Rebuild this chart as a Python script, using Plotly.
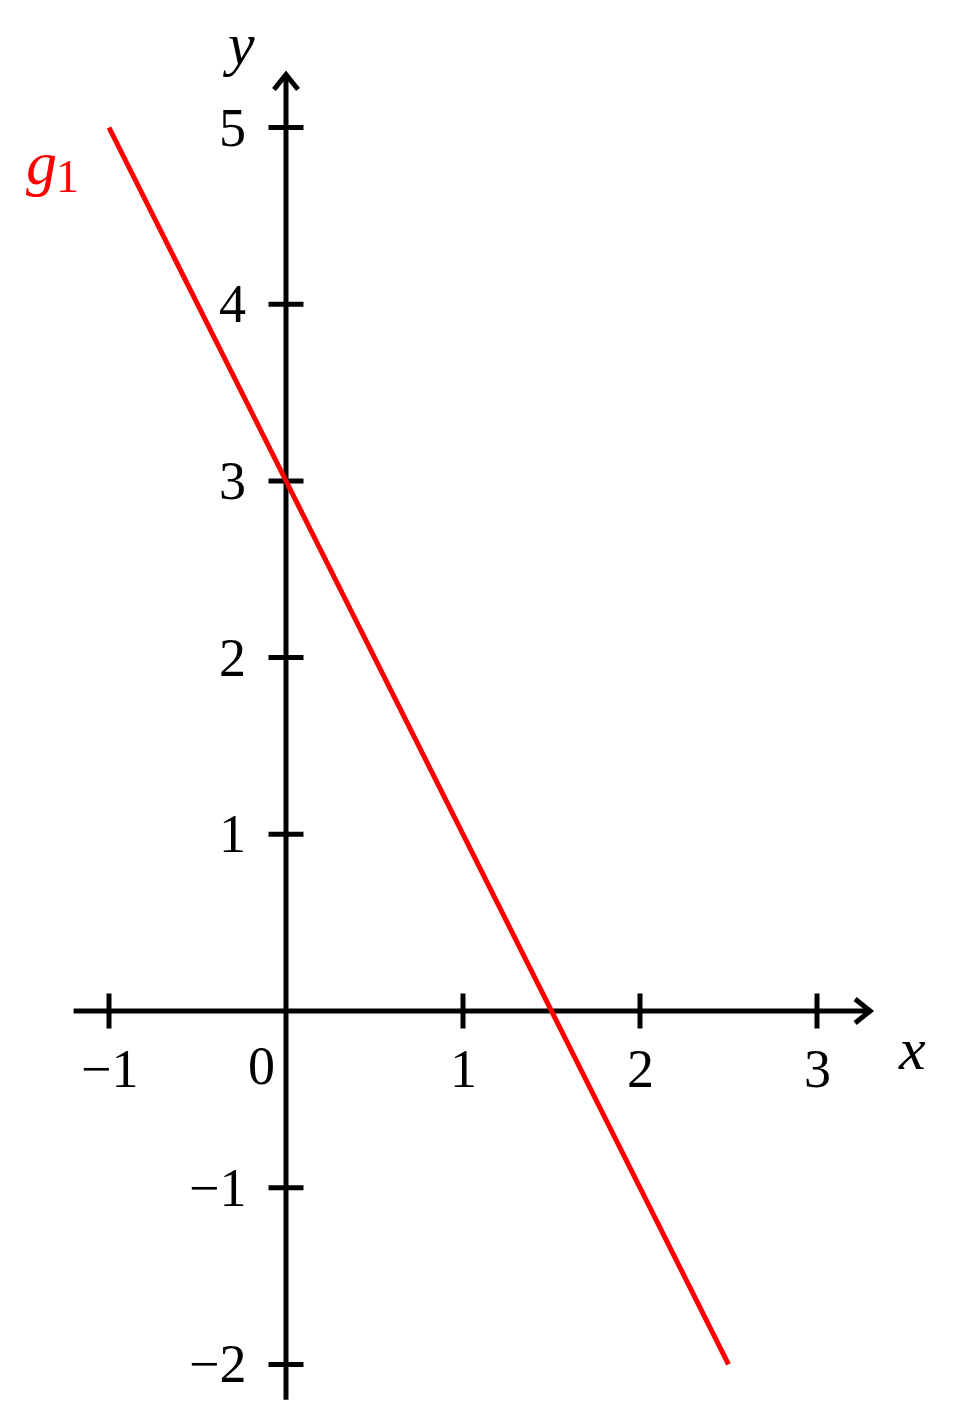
import plotly.graph_objects as go

# Gerade g1: y = -2x + 3, gezeichnet von x = -1 bis x = 2.5
g1_x = [-1, 2.5]
g1_y = [5, -2]

# Achsenbereiche (Pfeile)
x_axis_ext = [-1.2, 3.3]
y_axis_ext = [-2.2, 5.3]

# Achsenmarken
x_ticks = [-1, 1, 2, 3]
x_tick_labels = ["\u22121", "1", "2", "3"]
y_ticks = [-2, -1, 1, 2, 3, 4, 5]
y_tick_labels = ["\u22122", "\u22121", "1", "2", "3", "4", "5"]

# Seite hat 8px Rand -> Figur etwas kleiner, Ursprung entsprechend verschoben
W, H = 948, 1401
OX, OY = 286 - 8, 1011 - 8
PX_X, PX_Y = 177.0, 176.7  # Pixel pro Einheit
x_range = [-OX / PX_X, (W - OX) / PX_X]
y_range = [-(H - OY) / PX_Y, OY / PX_Y]

FONT = "Liberation Serif"
BLACK = "black"
RED = "#ff0000"
LW = 5

fig = go.Figure()

# Achsen
fig.add_trace(go.Scatter(x=x_axis_ext, y=[0, 0], mode="lines",
                         line=dict(color=BLACK, width=LW), hoverinfo="skip"))
fig.add_trace(go.Scatter(x=[0, 0], y=y_axis_ext, mode="lines",
                         line=dict(color=BLACK, width=LW), hoverinfo="skip"))

# Pfeilspitzen (offene Winkel)
ax_back, ax_spread = 15 / PX_X, 12 / PX_Y
tip = x_axis_ext[1]
fig.add_trace(go.Scatter(x=[tip - ax_back, tip, tip - ax_back], y=[ax_spread, 0, -ax_spread],
                         mode="lines", line=dict(color=BLACK, width=LW), hoverinfo="skip"))
ay_back, ay_spread = 15 / PX_Y, 12 / PX_X
tip = y_axis_ext[1]
fig.add_trace(go.Scatter(x=[-ay_spread, 0, ay_spread], y=[tip - ay_back, tip, tip - ay_back],
                         mode="lines", line=dict(color=BLACK, width=LW), hoverinfo="skip"))

# Striche
fig.add_trace(go.Scatter(x=x_ticks, y=[0] * len(x_ticks), mode="markers",
                         marker=dict(symbol="line-ns", size=25, line=dict(color=BLACK, width=LW)),
                         hoverinfo="skip"))
fig.add_trace(go.Scatter(x=[0] * len(y_ticks), y=y_ticks, mode="markers",
                         marker=dict(symbol="line-ew", size=25, line=dict(color=BLACK, width=LW)),
                         hoverinfo="skip"))

# Gerade g1
fig.add_trace(go.Scatter(x=g1_x, y=g1_y, mode="lines",
                         line=dict(color=RED, width=LW), hoverinfo="skip"))

tick_font = dict(family=FONT, size=54, color=BLACK)

for xv, lab in zip(x_ticks, x_tick_labels):
  fig.add_annotation(x=xv, y=-0.33, text=lab, showarrow=False, font=tick_font,
                     xanchor="center", yanchor="middle")
for yv, lab in zip(y_ticks, y_tick_labels):
  fig.add_annotation(x=-0.215, y=yv, text=lab, showarrow=False, font=tick_font,
                     xanchor="right", yanchor="middle")
fig.add_annotation(x=-0.136, y=-0.31, text="0", showarrow=False, font=tick_font,
                   xanchor="center", yanchor="middle")

# Achsenbeschriftungen
fig.add_annotation(x=3.537, y=-0.215, text="x", showarrow=False,
                   font=dict(family=FONT, size=60, color=BLACK, style="italic"),
                   xanchor="center", yanchor="middle")
fig.add_annotation(x=-0.271, y=5.475, text="y", showarrow=False,
                   font=dict(family=FONT, size=60, color=BLACK, style="italic"),
                   xanchor="center", yanchor="middle")
# Beschriftung g1 (g kursiv, Index 1 aufrecht)
fig.add_annotation(x=-1.379, y=4.80, text="g", showarrow=False,
                   font=dict(family=FONT, size=62, color=RED, style="italic"),
                   xanchor="center", yanchor="middle")
fig.add_annotation(x=-1.232, y=4.72, text="1", showarrow=False,
                   font=dict(family=FONT, size=46, color=RED),
                   xanchor="center", yanchor="middle")

fig.update_xaxes(range=x_range, visible=False, fixedrange=True)
fig.update_yaxes(range=y_range, visible=False, fixedrange=True)
fig.update_layout(width=W, height=H, margin=dict(l=0, r=0, t=0, b=0),
                  paper_bgcolor="white", plot_bgcolor="white", showlegend=False)

fig.write_html("out.html")
